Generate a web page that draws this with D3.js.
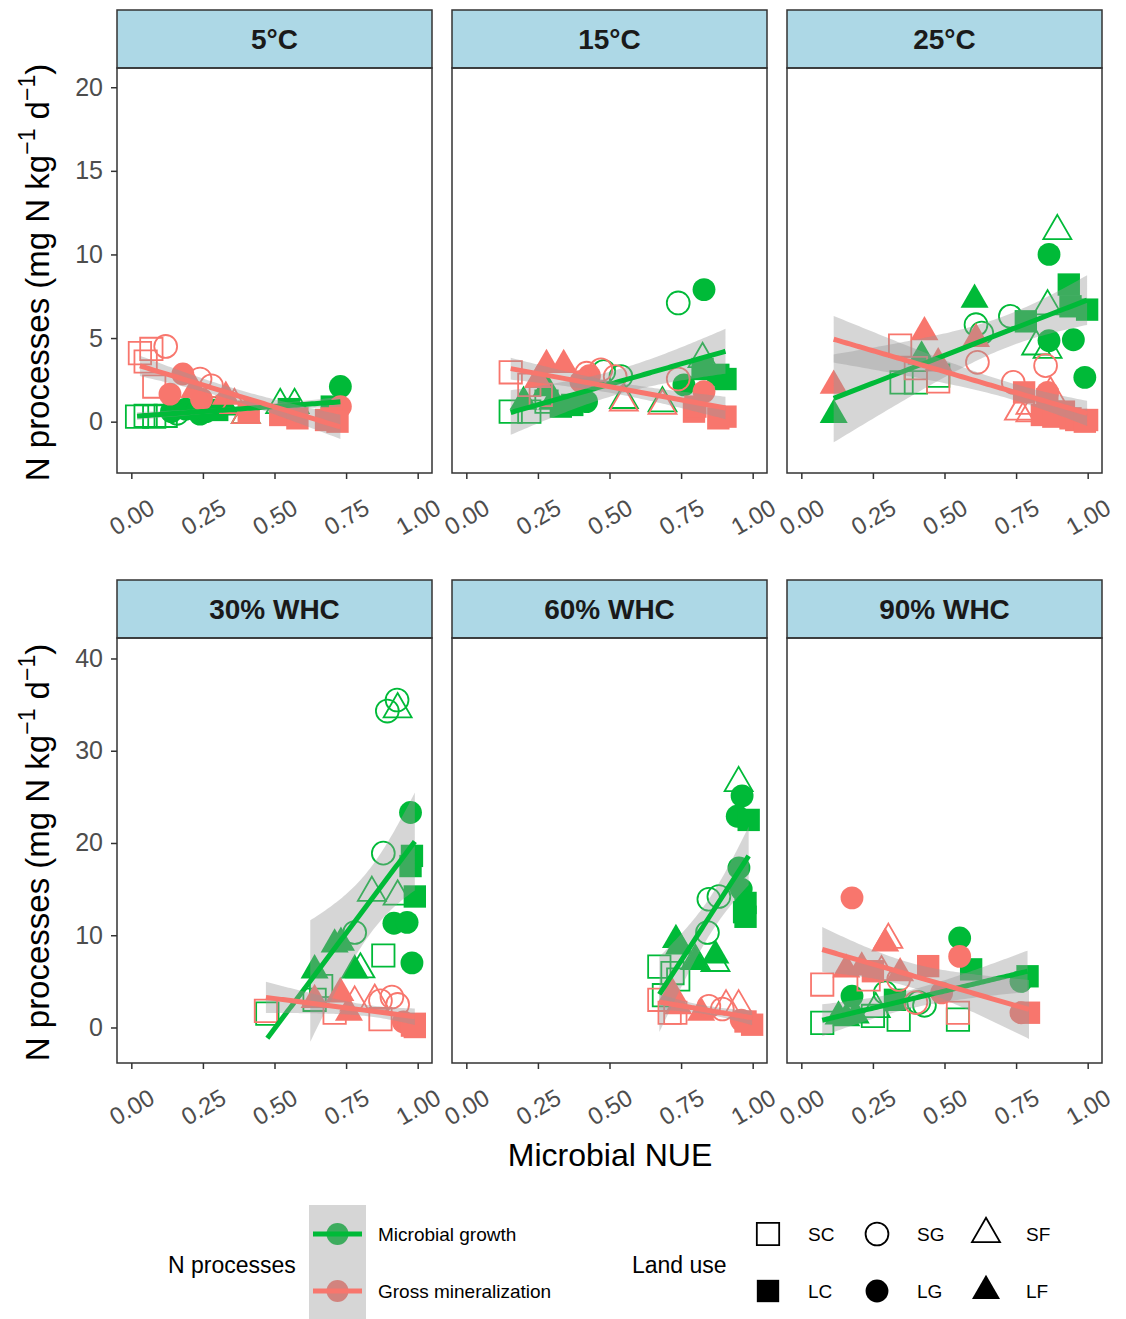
<!DOCTYPE html>
<html>
<head>
<meta charset="utf-8">
<script src="https://cdn.jsdelivr.net/npm/d3@7"></script>
<style>
body { margin: 0; background: #fff; }
text { font-family: "Liberation Sans", Arial, sans-serif; }
</style>
</head>
<body>
<div id="chart"></div>
<script>
// facets: 3 temperatures (top row) + 3 moisture levels (bottom row)
var panelNames = ["5°C", "15°C", "25°C", "30% WHC", "60% WHC", "90% WHC"];
var processes = ["Microbial growth", "Gross mineralization"];
var landUse = ["SC", "SG", "SF", "LC", "LG", "LF"];
var xTicks = [0, 0.25, 0.5, 0.75, 1];
var yTicksTop = [0, 5, 10, 15, 20];
var yTicksBottom = [0, 10, 20, 30, 40];
// y scale limits per row (ribbon parts outside are dropped, like ggplot)
var yLimitsTop = [-2, 20.05];
var yLimitsBottom = [-1.76, 40.1];

// [NUE, N process rate, land use]
var growth_5C = [
  [0.02,0.3,"SC"],[0.05,0.35,"SC"],[0.08,0.3,"SC"],[0.12,0.35,"SC"],
  [0.14,0.6,"LG"],[0.19,0.75,"LG"],[0.24,0.45,"LG"],[0.73,2.1,"LG"],
  [0.16,0.5,"SG"],[0.26,0.65,"SG"],[0.29,0.8,"SG"],
  [0.33,0.85,"LF"],[0.22,0.7,"LF"],
  [0.40,0.4,"SF"],[0.52,1.0,"SF"],[0.57,1.0,"SF"],
  [0.30,0.7,"LC"],[0.55,0.75,"LC"],[0.71,0.6,"LC"],[0.70,0.9,"LC"]
];
var mineral_5C = [
  [0.03,4.1,"SC"],[0.07,4.35,"SC"],[0.08,2.1,"SC"],[0.05,3.6,"SC"],
  [0.12,4.5,"SG"],[0.24,2.55,"SG"],[0.28,2.15,"SG"],
  [0.135,1.65,"LG"],[0.18,2.85,"LG"],[0.245,1.35,"LG"],[0.73,0.9,"LG"],
  [0.33,1.5,"LF"],[0.22,1.9,"LF"],
  [0.40,0.4,"SF"],[0.36,1.0,"SF"],
  [0.41,0.6,"LC"],[0.52,0.4,"LC"],[0.58,0.2,"LC"],[0.70,0.2,"LC"],[0.68,0.1,"LC"],[0.72,0.0,"LC"]
];
var growth_15C = [
  [0.155,0.6,"SC"],[0.22,0.6,"SC"],[0.28,1.2,"SC"],
  [0.28,2.0,"LF"],[0.30,1.2,"LF"],[0.20,1.2,"LF"],
  [0.33,0.9,"LC"],[0.37,1.0,"LC"],
  [0.42,1.2,"LG"],[0.83,7.9,"LG"],[0.76,2.2,"LG"],
  [0.48,3.0,"SG"],[0.54,2.7,"SG"],[0.74,7.1,"SG"],
  [0.55,1.3,"SF"],[0.685,1.1,"SF"],[0.825,3.75,"SF"],
  [0.825,3.15,"LC"],[0.905,2.55,"LC"],[0.88,2.8,"LC"]
];
var mineral_15C = [
  [0.155,2.95,"SC"],[0.22,2.2,"SC"],[0.26,1.6,"SC"],
  [0.28,3.4,"LF"],[0.34,3.4,"LF"],[0.25,2.5,"LF"],
  [0.43,2.75,"LG"],[0.40,2.4,"LG"],[0.83,1.8,"LG"],
  [0.42,2.9,"SG"],[0.47,3.1,"SG"],[0.52,2.7,"SG"],[0.74,2.55,"SG"],
  [0.55,1.15,"SF"],[0.685,0.95,"SF"],
  [0.795,0.6,"LC"],[0.905,0.3,"LC"],[0.80,0.9,"LC"],[0.88,0.2,"LC"]
];
var growth_25C = [
  [0.113,0.4,"LF"],[0.42,3.9,"LF"],[0.605,7.3,"LF"],
  [0.35,2.35,"SC"],[0.40,2.35,"SC"],[0.478,2.75,"SC"],
  [0.61,5.8,"SG"],[0.63,5.3,"SG"],[0.73,6.3,"SG"],
  [0.784,6.0,"LC"],[0.934,8.2,"LC"],[0.94,6.9,"LC"],[0.998,6.7,"LC"],
  [0.894,11.4,"SF"],[0.86,6.9,"SF"],[0.82,4.5,"SF"],[0.86,4.3,"SF"],
  [0.865,10.0,"LG"],[0.865,4.85,"LG"],[0.95,4.9,"LG"],[0.99,2.65,"LG"]
];
var mineral_25C = [
  [0.113,2.15,"LF"],[0.43,5.35,"LF"],[0.478,3.5,"LF"],[0.61,4.95,"LF"],
  [0.345,4.55,"SC"],[0.478,2.4,"SC"],[0.40,3.2,"SC"],
  [0.615,3.55,"SG"],[0.74,2.35,"SG"],[0.853,3.35,"SG"],
  [0.778,1.75,"LC"],[0.859,1.35,"LC"],[0.917,0.6,"LC"],[0.998,0.1,"LC"],
  [0.80,0.95,"SF"],[0.87,1.7,"SF"],[0.76,0.6,"SF"],[0.80,0.5,"SF"],
  [0.86,1.75,"LG"],[0.90,0.5,"LG"],
  [0.84,0.4,"LC"],[0.88,0.3,"LC"],[0.94,0.2,"LC"],[0.96,0.1,"LC"],[0.99,0.0,"LC"]
];
var growth_30WHC = [
  [0.894,34.3,"SG"],[0.928,35.5,"SG"],[0.88,18.9,"SG"],[0.78,10.3,"SG"],
  [0.93,34.5,"SF"],[0.84,14.6,"SF"],[0.93,14.2,"SF"],[0.80,6.3,"SF"],
  [0.975,23.3,"LG"],[0.917,11.3,"LG"],[0.963,11.4,"LG"],[0.98,7.0,"LG"],
  [0.98,18.6,"LC"],[0.99,14.2,"LC"],[0.975,17.5,"LC"],
  [0.88,7.8,"SC"],[0.663,4.5,"SC"],[0.64,3.0,"SC"],[0.475,1.5,"SC"],
  [0.732,9.2,"LF"],[0.71,9.0,"LF"],[0.64,6.2,"LF"],[0.78,6.2,"LF"]
];
var mineral_30WHC = [
  [0.47,1.8,"SC"],[0.71,1.6,"SC"],[0.87,0.9,"SC"],
  [0.64,3.0,"LF"],[0.73,3.75,"LF"],[0.76,1.6,"LF"],
  [0.78,2.7,"SF"],[0.85,2.9,"SF"],
  [0.87,2.9,"SG"],[0.91,3.3,"SG"],[0.93,2.5,"SG"],
  [0.95,0.6,"LG"],[0.97,0.3,"LG"],
  [0.99,0.4,"LC"],[0.99,0.05,"LC"],[0.98,0.2,"LC"]
];
var growth_60WHC = [
  [0.951,26.5,"SF"],[0.87,7.0,"SF"],[0.80,7.2,"SF"],
  [0.963,25.1,"LG"],[0.946,22.9,"LG"],[0.952,17.3,"LG"],[0.96,15.0,"LG"],
  [0.986,22.5,"LC"],[0.975,13.5,"LC"],[0.975,12.0,"LC"],[0.97,12.5,"LC"],
  [0.847,13.9,"SG"],[0.882,14.2,"SG"],[0.842,10.3,"SG"],
  [0.732,9.5,"LF"],[0.743,8.8,"LF"],[0.87,7.8,"LF"],[0.80,7.1,"LF"],
  [0.674,6.6,"SC"],[0.72,5.9,"SC"],[0.74,5.2,"SC"],[0.69,3.5,"SC"]
];
var mineral_60WHC = [
  [0.674,3.0,"SC"],[0.71,1.6,"SC"],[0.73,1.6,"SC"],
  [0.72,3.7,"LF"],[0.74,2.3,"LF"],[0.82,1.6,"LF"],
  [0.847,2.3,"SG"],[0.894,2.0,"SG"],
  [0.907,2.3,"SF"],[0.951,2.3,"SF"],
  [0.975,0.65,"LC"],[0.998,0.3,"LC"],
  [0.96,0.8,"LG"]
];
var growth_90WHC = [
  [0.073,0.5,"SC"],[0.25,1.25,"SC"],[0.34,0.85,"SC"],[0.547,0.85,"SC"],
  [0.157,1.0,"LF"],[0.19,1.3,"LF"],[0.13,1.2,"LF"],
  [0.177,3.4,"LG"],[0.553,9.7,"LG"],[0.767,5.0,"LG"],
  [0.293,3.75,"SG"],[0.41,2.7,"SG"],[0.43,2.4,"SG"],
  [0.327,3.0,"LC"],[0.593,6.3,"LC"],[0.79,5.55,"LC"],
  [0.26,2.0,"SF"]
];
var mineral_90WHC = [
  [0.177,14.05,"LG"],[0.49,3.75,"LG"],[0.553,7.7,"LG"],[0.767,1.6,"LG"],
  [0.304,9.5,"SF"],[0.28,6.0,"SF"],
  [0.293,9.1,"LF"],[0.157,6.3,"LF"],[0.211,6.5,"LF"],[0.345,5.9,"LF"],
  [0.073,4.65,"SC"],[0.235,5.2,"SC"],[0.547,1.6,"SC"],
  [0.25,6.1,"LC"],[0.443,6.65,"LC"],[0.795,1.6,"LC"],
  [0.34,5.2,"SG"],[0.40,2.7,"SG"]
];

var growthData = [growth_5C, growth_15C, growth_25C, growth_30WHC, growth_60WHC, growth_90WHC];
var mineralData = [mineral_5C, mineral_15C, mineral_25C, mineral_30WHC, mineral_60WHC, mineral_90WHC];

var colours = ["#00BA38", "#F8766D"];

var width = 1126, height = 1319;
var colX = [117, 452, 787], panelW = 315;
var rowTop = [68, 638], panelH = [405, 425], stripH = 58;
var yDomains = [[-3.07, 21.15], [-3.85, 42.22]];
var yLimits = [yLimitsTop, yLimitsBottom];
var xDomain = [-0.05, 1.05];

var svg = d3.select("#chart").append("svg")
    .attr("width", width)
    .attr("height", height);

svg.append("rect").attr("width", width).attr("height", height).attr("fill", "#fff");

// shape per land use: S* hollow, L* filled
function symbolFor(lu) {
  var k = lu[1];
  if (k == "C") return d3.symbol(d3.symbolSquare, 500)();
  if (k == "G") return d3.symbol(d3.symbolCircle, 410)();
  return d3.symbol(d3.symbolTriangle, 340)();
}
function isFilled(lu) { return lu[0] == "L"; }

// linear model + 95% CI, like geom_smooth(method = "lm")
function tQuant(df) {
  var z = 1.959964;
  return z + (z*z*z + z) / (4*df) + (5*Math.pow(z,5) + 16*z*z*z + 3*z) / (96*df*df);
}
function lmFit(pts) {
  var n = pts.length;
  var xbar = d3.mean(pts, d => d[0]), ybar = d3.mean(pts, d => d[1]);
  var sxx = d3.sum(pts, d => (d[0]-xbar)*(d[0]-xbar));
  var sxy = d3.sum(pts, d => (d[0]-xbar)*(d[1]-ybar));
  var b = sxy / sxx, a = ybar - b*xbar;
  var sse = d3.sum(pts, d => Math.pow(d[1] - (a + b*d[0]), 2));
  var s = Math.sqrt(sse / (n-2));
  var t = tQuant(n-2);
  var x0 = d3.min(pts, d => d[0]), x1 = d3.max(pts, d => d[0]);
  var out = [];
  for (var i = 0; i < 80; i++) {
    var xv = x0 + (x1-x0)*i/79;
    var fit = a + b*xv;
    var se = s * Math.sqrt(1/n + (xv-xbar)*(xv-xbar)/sxx);
    out.push({x: xv, y: fit, lo: fit - t*se, hi: fit + t*se});
  }
  return out;
}

panelNames.forEach(function(name, i) {
  var row = Math.floor(i/3), col = i % 3;
  var h = panelH[row];
  var lim = yLimits[row];
  var g = svg.append("g").attr("transform", "translate(" + colX[col] + "," + rowTop[row] + ")");

  var x = d3.scaleLinear().domain(xDomain).range([0, panelW]);
  var y = d3.scaleLinear().domain(yDomains[row]).range([h, 0]);

  // strip
  g.append("rect")
    .attr("x", 0).attr("y", -stripH)
    .attr("width", panelW).attr("height", stripH)
    .attr("fill", "#ADD8E6").attr("stroke", "#333").attr("stroke-width", 1.5);
  g.append("text")
    .attr("x", panelW/2).attr("y", -stripH/2 + 10)
    .attr("text-anchor", "middle")
    .attr("font-size", 28).attr("font-weight", "bold").attr("fill", "#1a1a1a")
    .text(name);

  g.append("clipPath").attr("id", "clip" + i)
    .append("rect").attr("width", panelW).attr("height", h);
  var plot = g.append("g").attr("clip-path", "url(#clip" + i + ")");

  var series = [growthData[i], mineralData[i]];

  // points
  series.forEach(function(pts, s) {
    plot.selectAll(null)
      .data(pts)
      .enter().append("path")
      .attr("d", d => symbolFor(d[2]))
      .attr("transform", d => "translate(" + x(d[0]) + "," + y(d[1]) + ")")
      .attr("fill", d => isFilled(d[2]) ? colours[s] : "none")
      .attr("stroke", colours[s])
      .attr("stroke-width", d => isFilled(d[2]) ? 0 : 1.8);
  });

  // smooths: ribbon then line, one group after the other
  series.forEach(function(pts, s) {
    var fit = lmFit(pts);
    plot.append("path")
      .datum(fit)
      .attr("fill", "#999999").attr("fill-opacity", 0.4)
      .attr("d", d3.area()
        .defined(d => d.lo >= lim[0] && d.hi <= lim[1])
        .x(d => x(d.x)).y0(d => y(d.lo)).y1(d => y(d.hi)));
    plot.append("path")
      .datum(fit)
      .attr("fill", "none").attr("stroke", colours[s]).attr("stroke-width", 5)
      .attr("d", d3.line()
        .defined(d => d.y >= lim[0] && d.y <= lim[1])
        .x(d => x(d.x)).y(d => y(d.y)));
  });

  // panel border
  g.append("rect").attr("width", panelW).attr("height", h)
    .attr("fill", "none").attr("stroke", "#333").attr("stroke-width", 1.5);

  // x axis
  var xa = g.append("g").attr("transform", "translate(0," + h + ")")
    .call(d3.axisBottom(x).tickValues(xTicks).tickFormat(d3.format(".2f")).tickSize(6));
  xa.select(".domain").remove();
  xa.selectAll("line").attr("stroke", "#333").attr("stroke-width", 1.5);
  xa.selectAll("text")
    .attr("y", 0).attr("dy", "0.35em")
    .attr("transform", "translate(0,44) rotate(-30)")
    .attr("text-anchor", "middle")
    .attr("font-size", 24).attr("fill", "#4d4d4d")
    .attr("font-family", "Liberation Sans, Arial, sans-serif");

  // y axis only in first column
  if (col == 0) {
    var ya = g.append("g")
      .call(d3.axisLeft(y).tickValues(row == 0 ? yTicksTop : yTicksBottom).tickSize(6));
    ya.select(".domain").remove();
    ya.selectAll("line").attr("stroke", "#333").attr("stroke-width", 1.5);
    ya.selectAll("text")
      .attr("x", -14)
      .attr("font-size", 25).attr("fill", "#4d4d4d")
      .attr("font-family", "Liberation Sans, Arial, sans-serif");

    // y title with superscripts
    var yt = svg.append("text")
      .attr("transform", "translate(49," + (rowTop[row] + h/2 + 2) + ") rotate(-90)")
      .attr("text-anchor", "middle")
      .attr("font-size", 33).attr("fill", "#000");
    yt.append("tspan").text("N processes (mg N kg");
    yt.append("tspan").attr("dy", -14).attr("font-size", 23).text("\u22121");
    yt.append("tspan").attr("dy", 14).text(" d");
    yt.append("tspan").attr("dy", -14).attr("font-size", 23).text("\u22121");
    yt.append("tspan").attr("dy", 14).text(")");
  }
});

// x title
svg.append("text")
  .attr("x", 610).attr("y", 1166)
  .attr("text-anchor", "middle")
  .attr("font-size", 32).attr("fill", "#000")
  .text("Microbial NUE");

// legend: N processes
var leg = svg.append("g");
leg.append("text").attr("x", 168).attr("y", 1273)
  .attr("font-size", 23).text("N processes");
processes.forEach(function(p, k) {
  var ky = 1205 + k*57;
  leg.append("circle").attr("cx", 337.5).attr("cy", ky + 29).attr("r", 11).attr("fill", colours[k]);
  leg.append("rect").attr("x", 309).attr("y", ky).attr("width", 57).attr("height", 57)
    .attr("fill", "#999999").attr("fill-opacity", 0.4);
  leg.append("line").attr("x1", 313).attr("x2", 362).attr("y1", ky + 29).attr("y2", ky + 29)
    .attr("stroke", colours[k]).attr("stroke-width", 5);
  leg.append("text").attr("x", 378).attr("y", ky + 36)
    .attr("font-size", 19).text(p);
});

// legend: land use
leg.append("text").attr("x", 632).attr("y", 1273)
  .attr("font-size", 23).text("Land use");
landUse.forEach(function(lu, k) {
  var c = k % 3, r = Math.floor(k/3);
  var sx = 768 + c*109, sy = 1234 + r*57;
  leg.append("path")
    .attr("d", symbolFor(lu))
    .attr("transform", "translate(" + sx + "," + sy + ")")
    .attr("fill", isFilled(lu) ? "#000" : "none")
    .attr("stroke", "#000").attr("stroke-width", isFilled(lu) ? 0 : 1.8);
  leg.append("text").attr("x", sx + 40).attr("y", sy + 7)
    .attr("font-size", 19).text(lu);
});
</script>
</body>
</html>
